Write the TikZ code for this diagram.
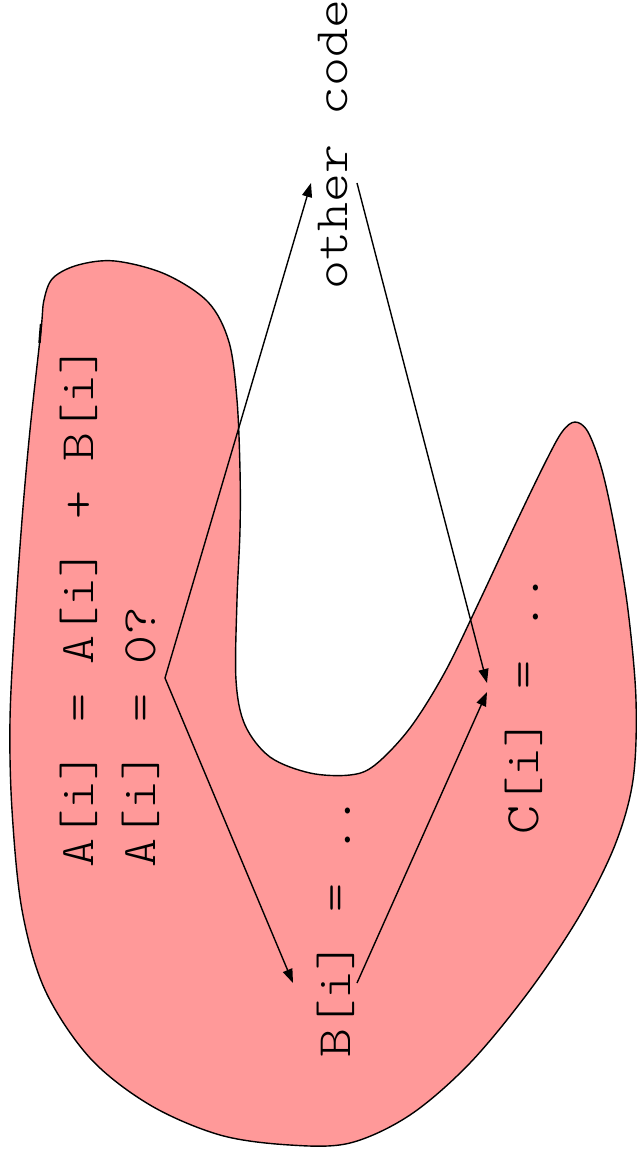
\documentclass[tikz,border=0pt]{standalone}
\usepackage{fontspec}
\newfontfamily\codefont{lmmonolt10-regular.otf}[FakeStretch=1.15]
\usetikzlibrary{arrows.meta}

\definecolor{blobpink}{RGB}{255,153,153}

\begin{document}
\begin{tikzpicture}[
  x=0.5pt, y=-0.5pt,
  code/.style={font=\codefont\fontsize{24}{31}\selectfont, rotate=90,
               anchor=base west, inner sep=0pt, align=left},
  arrow/.style={-{Triangle[length=7pt,width=5pt]}, line width=0.7pt},
  blob/.style={draw=black, fill=blobpink, line width=0.7pt},
]
  \useasboundingbox (0,0) rectangle (637,1158);

  % the region
  \draw[blob] plot[smooth cycle, tension=0.55] coordinates {
    (41,330) (44,300) (53,278) (78,265) (115,261) (165,274) (208,302)
    (229,342) (237,400) (240,470) (240,530) (237,600) (236,680) (245,725)
    (270,757) (310,773) (350,775) (375,765) (410,728) (445,672) (480,600)
    (515,525) (545,463) (562,432) (575,422) (588,432) (602,470) (615,530)
    (628,610) (636,700) (633,780) (615,845) (580,915) (530,990) (470,1063)
    (410,1115) (350,1143) (290,1145) (220,1135) (150,1105) (90,1058)
    (45,990) (22,910) (12,810) (10,720) (15,620) (22,520) (30,430)};
  \draw[line width=1.2pt] (39.5,343) -- (41,324);

  \node[code] (loop)  at (155,868)  {A[i] = A[i] + B[i]\\A[i] = 0?};
  \node[code] (bset)  at (350,1058) {B[i] = ..};
  \node[code] (cset)  at (538,835)  {C[i] = ..};
  \node[code] (other) at (347,290)  {other code};

  \coordinate (fork)     at (165,678);
  \coordinate (otherin)  at (311,183);
  \coordinate (otherout) at (357,183);
  \coordinate (bin)      at (293,983);
  \coordinate (bout)     at (357,983);
  \coordinate (cin)      at (487,692);
  \coordinate (cin2)     at (487,683);

  \draw[arrow] (fork) -- (otherin);
  \draw[arrow] (fork) -- (bin);
  \draw[arrow] (otherout) -- (cin2);
  \draw[arrow] (bout) -- (cin);
\end{tikzpicture}
\end{document}
